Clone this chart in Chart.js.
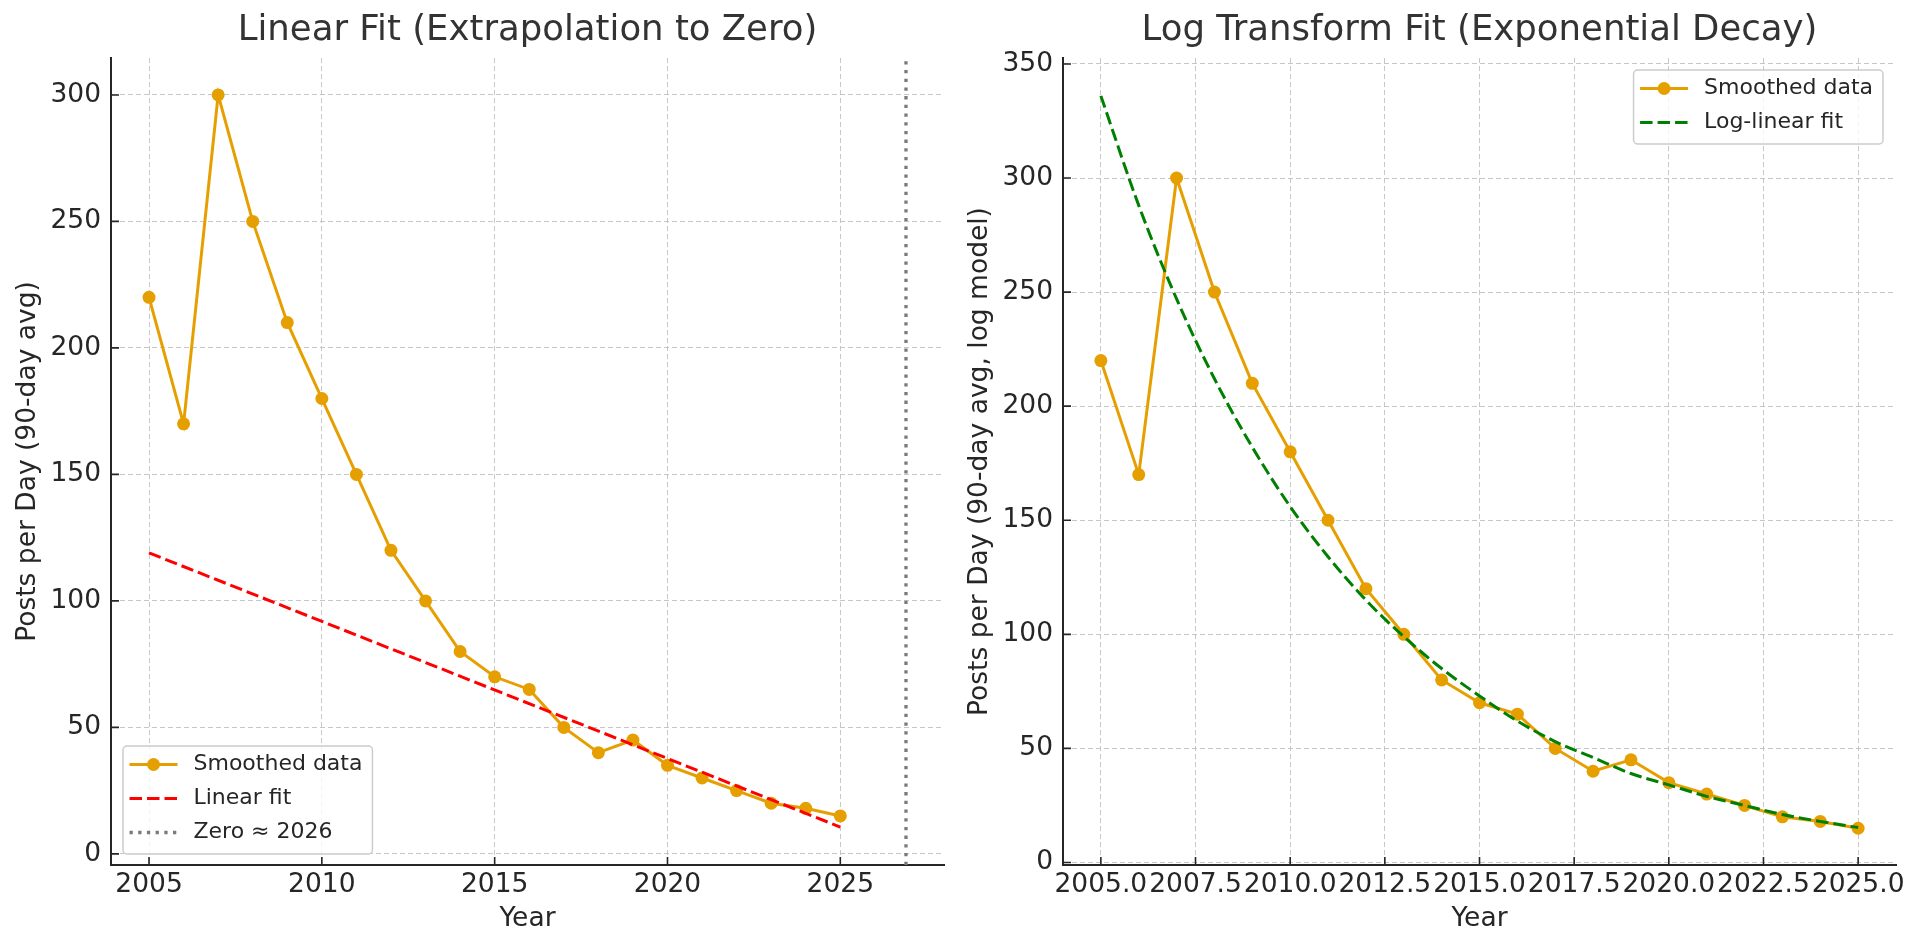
<!DOCTYPE html>
<html>
<head>
<meta charset="utf-8">
<title>Posts per Day - Linear and Log Fits</title>
<script src="https://cdn.jsdelivr.net/npm/chart.js@4.4.1/dist/chart.umd.min.js"></script>
<style>
html, body { margin:0; padding:0; background:#ffffff; }
#wrap { position:relative; width:1920px; height:949px; overflow:hidden; }
#wrap canvas { position:absolute; top:0; }
#linearChart { left:0; }
#logChart { left:960px; }
</style>
</head>
<body>
<div id="wrap">
    <canvas id="linearChart" width="960" height="949"></canvas>
    <canvas id="logChart" width="960" height="949"></canvas>
</div>
<script>

/*
=================================
DATA
=================================
*/

const years = [
    2005, 2006, 2007, 2008, 2009, 2010, 2011,
    2012, 2013, 2014, 2015, 2016, 2017, 2018,
    2019, 2020, 2021, 2022, 2023, 2024, 2025
];

const smoothedPosts = [
    220, 170, 300, 250, 210, 180, 150,
    120, 100, 80, 70, 65, 50, 40,
    45, 35, 30, 25, 20, 18, 15
];

// straight line fit, read at both ends
const linearFitYears = [2005, 2025];
const linearFitPosts = [119, 10.6];

// where the linear fit crosses zero
const zeroYear = 2026.9;

// exponential (log-linear) fit, one value per year
const logFitPosts = [
    336, 288, 247, 212, 182, 156, 134,
    115, 99, 85, 73, 62, 53, 46,
    39, 34, 29, 25, 21, 18, 15.3
];

// axis limits (matplotlib auto margins)
const linearXRange = [2003.9, 2028.0];
const linearYRange = [-4.4, 314.6];
const logXRange = [2004, 2026];
const logYRange = [-1.1, 352.6];

/*
=================================
SHARED LOOK
=================================
*/

const FONT = "'DejaVu Sans', 'Liberation Sans', sans-serif";
const TEXT = "#262626";

Chart.defaults.font.family = FONT;
Chart.defaults.color = TEXT;

function toPoints(xs, ys){
    return xs.map((x, i) => ({ x: x, y: ys[i] }));
}

/*
=================================
INWARD TICK MARKS
=================================
*/

const inwardTicks = {
    id: "inwardTicks",
    afterDatasetsDraw(chart){
        const ctx = chart.ctx;
        const area = chart.chartArea;
        const xs = chart.scales.x;
        const ys = chart.scales.y;

        ctx.save();
        ctx.strokeStyle = TEXT;
        ctx.lineWidth = 1.6;
        ctx.beginPath();

        xs.ticks.forEach(t => {
            const px = xs.getPixelForValue(t.value);
            ctx.moveTo(px, area.bottom);
            ctx.lineTo(px, area.bottom - 8);
        });

        ys.ticks.forEach(t => {
            const py = ys.getPixelForValue(t.value);
            ctx.moveTo(area.left, py);
            ctx.lineTo(area.left + 8, py);
        });

        ctx.stroke();
        ctx.restore();
    }
};

/*
=================================
FRAMED LEGEND INSIDE PLOT
=================================
*/

const boxLegend = {
    id: "boxLegend",
    afterDraw(chart, args, opts){
        const ctx = chart.ctx;
        const area = chart.chartArea;
        const sets = chart.data.datasets;

        ctx.save();
        ctx.font = "22px " + FONT;

        let textW = 0;
        sets.forEach(ds => {
            textW = Math.max(textW, ctx.measureText(ds.label).width);
        });

        const w = 70.5 + textW + 10;
        const h = sets.length * 34 + 6;

        const lowerLeft = opts.corner === "lower left";
        const x = lowerLeft ? area.left + 12 : area.right - 13 - w;
        const y = lowerLeft ? area.bottom - 11 - h : area.top + 12;

        ctx.beginPath();
        ctx.roundRect(x, y, w, h, 4);
        ctx.fillStyle = "rgba(255,255,255,0.8)";
        ctx.fill();
        ctx.strokeStyle = "#cccccc";
        ctx.lineWidth = 1.5;
        ctx.stroke();

        sets.forEach((ds, i) => {
            const cy = y + 18.5 + i * 34;

            ctx.save();
            ctx.strokeStyle = ds.borderColor;
            ctx.lineWidth = ds.borderWidth;
            ctx.setLineDash(ds.borderDash || []);
            ctx.beginPath();
            ctx.moveTo(x + 6.5, cy);
            ctx.lineTo(x + 54.5, cy);
            ctx.stroke();

            if(ds.pointRadius > 0){
                ctx.setLineDash([]);
                ctx.fillStyle = ds.pointBackgroundColor;
                ctx.beginPath();
                ctx.arc(x + 30.5, cy, ds.pointRadius, 0, Math.PI * 2);
                ctx.fill();
            }
            ctx.restore();

            ctx.fillStyle = TEXT;
            ctx.textAlign = "left";
            ctx.textBaseline = "middle";
            ctx.fillText(ds.label, x + 70.5, cy);
        });

        ctx.restore();
    }
};

/*
=================================
AXIS BUILDER
=================================
*/

function makeScales(cfg){
    const grid = {
        color: "rgba(185,185,185,0.8)",
        lineWidth: 1,
        drawTicks: false
    };
    const border = {
        display: true,
        color: TEXT,
        width: 2,
        dash: [5, 3]
    };

    return {
        x: {
            type: "linear",
            min: cfg.xRange[0],
            max: cfg.xRange[1],
            grid: grid,
            border: border,
            ticks: {
                stepSize: cfg.xStep,
                includeBounds: false,
                autoSkip: false,
                maxRotation: 0,
                minRotation: 0,
                padding: 4,
                color: TEXT,
                font: { size: 26.5 },
                callback: cfg.xFormat
            },
            title: {
                display: true,
                text: "Year",
                color: TEXT,
                font: { size: 26.5 },
                padding: { top: 0, bottom: 14 }
            },
            afterFit(scale){ scale.height = 84; }
        },
        y: {
            type: "linear",
            min: cfg.yRange[0],
            max: cfg.yRange[1],
            grid: grid,
            border: border,
            ticks: {
                stepSize: 50,
                includeBounds: false,
                padding: 10,
                color: TEXT,
                font: { size: 26.5 },
                callback: v => String(v)
            },
            title: {
                display: true,
                text: cfg.yTitle,
                color: TEXT,
                font: { size: 26.5 },
                padding: { top: cfg.yTitlePad, bottom: 0 }
            },
            afterFit(scale){ scale.width = cfg.yWidth; }
        }
    };
}

function makeTitle(text){
    return {
        display: true,
        text: text,
        fullSize: false,
        color: "#333333",
        font: { size: 35.5, weight: "normal" },
        padding: { top: 9, bottom: 6.4 }
    };
}

/*
=================================
LEFT: LINEAR FIT
=================================
*/

new Chart(document.getElementById("linearChart"), {
    type: "line",
    data: {
        datasets: [
            {
                label: "Smoothed data",
                data: toPoints(years, smoothedPosts),
                borderColor: "#E69F00",
                backgroundColor: "#E69F00",
                borderWidth: 3,
                pointRadius: 6.5,
                pointHoverRadius: 6.5,
                pointBorderWidth: 0,
                pointBackgroundColor: "#E69F00",
                tension: 0,
                order: 3
            },
            {
                label: "Linear fit",
                data: toPoints(linearFitYears, linearFitPosts),
                borderColor: "#ff0000",
                borderWidth: 3,
                borderDash: [12.5, 5],
                pointRadius: 0,
                order: 2
            },
            {
                label: "Zero \u2248 2026",
                data: [
                    { x: zeroYear, y: linearYRange[0] },
                    { x: zeroYear, y: linearYRange[1] }
                ],
                borderColor: "#7a7a7a",
                borderWidth: 3.3,
                borderDash: [3.3, 5.4],
                pointRadius: 0,
                order: 1
            }
        ]
    },
    options: {
        responsive: false,
        animation: false,
        devicePixelRatio: 1,
        layout: { padding: { left: 0, right: 16, top: 0, bottom: 0 } },
        plugins: {
            legend: { display: false },
            tooltip: { enabled: false },
            title: makeTitle("Linear Fit (Extrapolation to Zero)"),
            boxLegend: { corner: "lower left" }
        },
        scales: makeScales({
            xRange: linearXRange,
            yRange: linearYRange,
            xStep: 5,
            xFormat: v => String(v),
            yTitle: "Posts per Day (90-day avg)",
            yTitlePad: 12,
            yWidth: 111
        })
    },
    plugins: [inwardTicks, boxLegend]
});

/*
=================================
RIGHT: LOG TRANSFORM FIT
=================================
*/

new Chart(document.getElementById("logChart"), {
    type: "line",
    data: {
        datasets: [
            {
                label: "Smoothed data",
                data: toPoints(years, smoothedPosts),
                borderColor: "#E69F00",
                backgroundColor: "#E69F00",
                borderWidth: 3,
                pointRadius: 6.5,
                pointHoverRadius: 6.5,
                pointBorderWidth: 0,
                pointBackgroundColor: "#E69F00",
                tension: 0,
                order: 2
            },
            {
                label: "Log-linear fit",
                data: toPoints(years, logFitPosts),
                borderColor: "#008000",
                borderWidth: 3,
                borderDash: [12.5, 5],
                pointRadius: 0,
                cubicInterpolationMode: "monotone",
                order: 1
            }
        ]
    },
    options: {
        responsive: false,
        animation: false,
        devicePixelRatio: 1,
        layout: { padding: { left: 0, right: 24, top: 0, bottom: 0 } },
        plugins: {
            legend: { display: false },
            tooltip: { enabled: false },
            title: makeTitle("Log Transform Fit (Exponential Decay)"),
            boxLegend: { corner: "upper right" }
        },
        scales: makeScales({
            xRange: logXRange,
            yRange: logYRange,
            xStep: 2.5,
            xFormat: v => Number(v).toFixed(1),
            yTitle: "Posts per Day (90-day avg, log model)",
            yTitlePad: 4,
            yWidth: 103
        })
    },
    plugins: [inwardTicks, boxLegend]
});

</script>
</body>
</html>
